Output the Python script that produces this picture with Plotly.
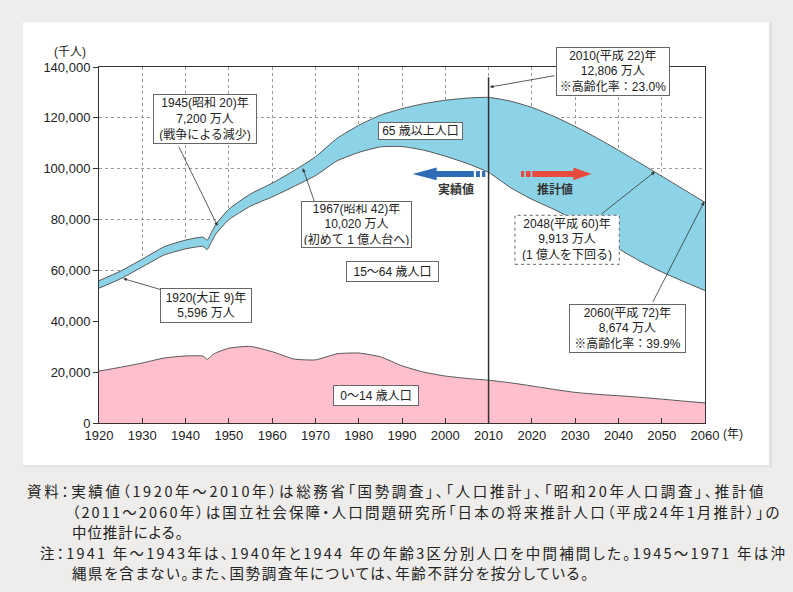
import plotly.graph_objects as go

# population in thousands
YEARS = [1920, 1925, 1930, 1935, 1940, 1944, 1945, 1946, 1947, 1950, 1955, 1960,
         1965, 1970, 1975, 1980, 1985, 1990, 1995, 2000, 2005, 2010, 2015, 2020,
         2025, 2030, 2035, 2040, 2045, 2050, 2055, 2060]
TOTAL = [55963, 59737, 64450, 69254, 71933, 73100, 71900, 75000, 78101, 84115, 90077, 94302,
         99209, 104665, 111940, 117060, 121049, 123611, 125570, 126926, 127768, 128057, 126597, 124100,
         120659, 116618, 112124, 107276, 102210, 97076, 91933, 86737]
AGE_65_PLUS = [2941, 3021, 3064, 3225, 3454, 3650, 3700, 3750, 3780, 4155, 4786, 5398,
               6236, 7393, 8865, 10647, 12468, 14895, 18261, 22005, 25672, 29484, 33952, 36124,
               36573, 36849, 37407, 38678, 38564, 37676, 36257, 34642]
AGE_0_14 = [20416, 21924, 23579, 25545, 26369, 26300, 25000, 26500, 27573, 29428, 30123, 28067,
            25166, 24823, 27221, 27507, 26033, 22486, 20014, 18472, 17521, 16803, 15827, 14568,
            13240, 12039, 11287, 10732, 10116, 9387, 8614, 7912]

X_TICKS = list(range(1920, 2061, 10))
Y_TICKS = list(range(0, 140001, 20000))
BOUNDARY_YEAR = 2010

FONT = "Liberation Sans, Arial, Noto Sans CJK JP"
CJK = "Noto Sans CJK JP, sans-serif"
BLUE = "#8dd3e8"
PINK = "#ffbfcc"
EDGE = "#555555"

AGE_0_64 = [t - o for t, o in zip(TOTAL, AGE_65_PLUS)]

fig = go.Figure()
fig.add_trace(go.Scatter(x=YEARS, y=AGE_0_14, mode="lines", fill="tozeroy", hoverinfo="skip",
                         fillcolor=PINK, line=dict(color=EDGE, width=1, shape="spline", smoothing=0.5)))
fig.add_trace(go.Scatter(x=YEARS, y=AGE_0_64, mode="lines", fill="tonexty", hoverinfo="skip",
                         fillcolor="white", line=dict(color=EDGE, width=1, shape="spline", smoothing=0.5)))
fig.add_trace(go.Scatter(x=YEARS, y=TOTAL, mode="lines", fill="tonexty", hoverinfo="skip",
                         fillcolor=BLUE, line=dict(color=EDGE, width=1, shape="spline", smoothing=0.5)))

# white panel behind the chart (with a faint shadow)
fig.add_shape(type="rect", xref="paper", yref="paper", x0=-0.1254, x1=1.1106, y0=-0.1244, y1=1.1256,
              fillcolor="#e2e1df", line_width=0, layer="below")
fig.add_shape(type="rect", xref="paper", yref="paper", x0=-0.1254, x1=1.1056, y0=-0.1188, y1=1.1256,
              fillcolor="white", line_width=0, layer="below")

# actual / projection divider
fig.add_shape(type="line", x0=BOUNDARY_YEAR, x1=BOUNDARY_YEAR, y0=0, y1=136000,
              line=dict(color="#333333", width=1.5), layer="above")

# blue arrow (実績値) and red arrow (推計値)
blue_path = ("M 2006.6,99090 L 1998.0,99090 L 1998.0,100430 L 1992.45,97920 "
             "L 1998.0,95440 L 1998.0,96740 L 2006.6,96740 Z")
red_path = ("M 2020.1,99090 L 2029.57,99090 L 2029.57,100430 L 2033.82,97920 "
            "L 2029.57,95440 L 2029.57,96740 L 2020.1,96740 Z")
fig.add_shape(type="path", path=blue_path, fillcolor="#2e6db4", line_width=0, layer="above")
fig.add_shape(type="path", path=red_path, fillcolor="#e84a3c", line_width=0, layer="above")
for x0, x1 in [(2007.1, 2008.0), (2008.5, 2009.25)]:
    fig.add_shape(type="rect", x0=x0, x1=x1, y0=96740, y1=99090, fillcolor="#2e6db4", line_width=0, layer="above")
for x0, x1 in [(2017.5, 2018.2), (2018.6, 2019.7)]:
    fig.add_shape(type="rect", x0=x0, x1=x1, y0=96740, y1=99090, fillcolor="#e84a3c", line_width=0, layer="above")

# dashed box for 2048 note
fig.add_shape(type="rect", x0=2016.1, x1=2040.2, y0=62400, y1=81680,
              line=dict(color="#666666", width=1, dash="dot"), fillcolor="white", layer="above")

# callout arrows: (tail_x, tail_y, head_x, head_y)
ARROWS = [
    (1938.3, 109150, 1947.4, 77500),
    (1969.9, 86400, 1967.1, 100150),
    (1934.8, 52200, 1925.6, 56780),
    (2025.6, 136700, 2010.3, 132100),
    (2035.7, 81680, 2048.4, 98800),
    (2047.8, 47070, 2059.8, 86980),
]
for tx, ty, hx, hy in ARROWS:
    fig.add_annotation(x=hx, y=hy, ax=tx, ay=ty, xref="x", yref="y", axref="x", ayref="y",
                       text="", showarrow=True, arrowhead=2, arrowsize=0.9, arrowwidth=0.8,
                       arrowcolor="#333333")

# text boxes: (text, x, y, width, height, bordered)
BOXES = [
    ("1945(昭和 20)年<br>7,200 万人<br>(戦争による減少)", 1944.5, 119400, 98, 44, True),
    ("1967(昭和 42)年<br>10,020 万人<br>(初めて 1 億人台へ)", 1979.6, 77900, 105, 41, True),
    ("1920(大正 9)年<br>5,596 万人", 1944.8, 46090, 86, 29, True),
    ("15～64 歳人口", 1987.9, 59570, 87, 15, True),
    ("0～14 歳人口", 1984.0, 11010, 80, 15, True),
    ("65 歳以上人口", 1994.2, 114900, 79, 12, True),
    ("2010(平成 22)年<br>12,806 万人<br>※高齢化率：23.0%", 2038.7, 138300, 108, 43, True),
    ("2048(平成 60)年<br>9,913 万人<br>(1 億人を下回る)", 2028.2, 72040, 98, 43, False),
    ("2060(平成 72)年<br>8,674 万人<br>※高齢化率：39.9%", 2042.2, 37320, 111, 43, True),
]
for text, x, y, w, h, bordered in BOXES:
    fig.add_annotation(x=x, y=y, xref="x", yref="y", text=text, showarrow=False,
                       width=w, height=h, align="center", valign="middle",
                       bgcolor="white" if bordered else "rgba(0,0,0,0)",
                       bordercolor="#666666" if bordered else "rgba(0,0,0,0)",
                       borderwidth=1, borderpad=2,
                       font=dict(family=FONT, size=12, color="#222222"))

fig.add_annotation(x=2002.4, y=92170, xref="x", yref="y", text="<b>実績値</b>", showarrow=False,
                   font=dict(family=CJK, size=12, color="#333333"))
fig.add_annotation(x=2025.3, y=92170, xref="x", yref="y", text="<b>推計値</b>", showarrow=False,
                   font=dict(family=CJK, size=12, color="#333333"))

# axis unit labels
fig.add_annotation(x=-0.048, y=1.041, xref="paper", yref="paper", text="(千人)", showarrow=False,
                   xanchor="center", yanchor="middle",
                   font=dict(family=FONT, size=12, color="#222222"))
fig.add_annotation(x=1.0465, y=-0.0317, xref="paper", yref="paper", text="(年)", showarrow=False,
                   xanchor="center", yanchor="middle",
                   font=dict(family=FONT, size=12, color="#222222"))

# source / notes: (text, x, y, letter spacing px)
NOTES = [
    ("資料：実績値（1920年～2010年）は総務省「国勢調査」、「人口推計」、「昭和20年人口調査」、推計値", -0.1221, -0.1890, 2.63),
    ("（2011～2060年）は国立社会保障・人口問題研究所「日本の将来推計人口（平成24年1月推計）」の", -0.0479, -0.2472, 2.15),
    ("中位推計による。", -0.0479, -0.3042, 0.9),
    ("注：1941 年～1943年は、1940年と1944 年の年齢3区分別人口を中間補間した。1945～1971 年は沖", -0.1007, -0.3624, 2.23),
    ("縄県を含まない。また、国勢調査年については、年齢不詳分を按分している。", -0.0479, -0.4213, 1.6),
]
for text, x, y, ls in NOTES:
    fig.add_annotation(x=x, y=y, xref="paper", yref="paper",
                       text=f"<span style=\"font-feature-settings:'palt';letter-spacing:{ls}px\">{text}</span>",
                       showarrow=False, xanchor="left", yanchor="middle",
                       font=dict(family=CJK, size=14.5, color="#222222"))

axis_common = dict(showline=True, linecolor="#333333", linewidth=1, mirror=True,
                   showgrid=True, gridcolor="#999999", gridwidth=1, griddash="dot",
                   zeroline=False, tickcolor="#333333", ticklen=5,
                   tickfont=dict(family=FONT, size=13, color="#222222"))
fig.update_xaxes(range=[1920, 2060], tickvals=X_TICKS, ticks="inside", **axis_common)
fig.update_yaxes(range=[0, 140000], tickvals=Y_TICKS, tickformat=",", ticks="outside", **axis_common)

fig.update_layout(
    width=793, height=592, autosize=False,
    showlegend=False,
    paper_bgcolor="#eeedeb",
    plot_bgcolor="white",
    margin=dict(l=99, r=88, t=67, b=169),
)

fig.write_html("out.html", config={"displayModeBar": False},
               post_script="document.body.style.margin='0';document.body.style.background='#eeedeb';")
